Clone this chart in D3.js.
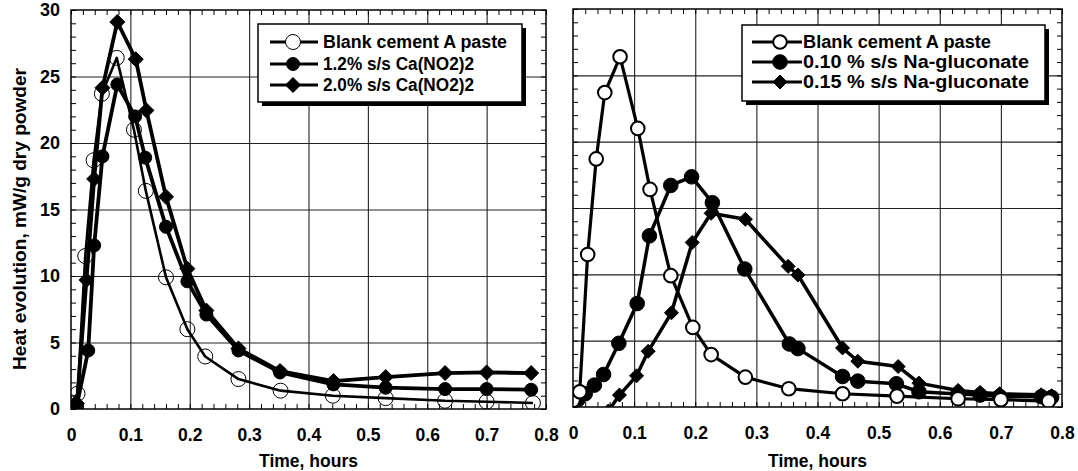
<!DOCTYPE html>
<html>
<head>
<meta charset="utf-8">
<script src="https://cdn.jsdelivr.net/npm/d3@7"></script>
<style>
body { margin: 0; background: #fff; }
svg { display: block; font-family: Arial, "Liberation Sans", sans-serif; font-weight: bold; }
</style>
</head>
<body>
<svg id="chart" width="1078" height="471"></svg>
<script>
// axis ticks
var timeTicks = [0, 0.1, 0.2, 0.3, 0.4, 0.5, 0.6, 0.7, 0.8];
var timeTickLabels = ["0", "0.1", "0.2", "0.3", "0.4", "0.5", "0.6", "0.7", "0.8"];
var heatTicks = [0, 5, 10, 15, 20, 25, 30];
var heatTickLabels = ["0", "5", "10", "15", "20", "25", "30"];

// blank cement A paste (both panels)
var blankTime = [0, 0.011, 0.024, 0.038, 0.052, 0.077, 0.106, 0.126, 0.16, 0.196, 0.226, 0.282, 0.353, 0.441, 0.53, 0.63, 0.7, 0.778];
var blankHeat = [0.5, 1.15, 11.5, 18.7, 23.7, 26.4, 21.0, 16.4, 9.9, 6.0, 3.95, 2.25, 1.38, 1.0, 0.82, 0.62, 0.55, 0.45];

// left panel: calcium nitrite
var nitrite12Time = [0, 0.01, 0.029, 0.039, 0.053, 0.078, 0.108, 0.125, 0.16, 0.196, 0.228, 0.282, 0.352, 0.442, 0.53, 0.63, 0.7, 0.775];
var nitrite12Heat = [0.1, 0.3, 4.4, 12.3, 19.0, 24.4, 22.0, 18.9, 13.7, 9.6, 7.1, 4.4, 2.75, 1.85, 1.6, 1.5, 1.5, 1.45];
var nitrite20Time = [0, 0.01, 0.026, 0.039, 0.053, 0.078, 0.109, 0.127, 0.16, 0.196, 0.228, 0.282, 0.352, 0.442, 0.53, 0.63, 0.7, 0.775];
var nitrite20Heat = [0.1, 0.4, 9.7, 17.3, 24.15, 29.1, 26.3, 22.45, 15.95, 10.55, 7.4, 4.55, 2.85, 2.1, 2.4, 2.7, 2.75, 2.7];

// right panel: sodium gluconate
var gluconate10Time = [0, 0.008, 0.02, 0.035, 0.05, 0.075, 0.105, 0.125, 0.16, 0.194, 0.228, 0.281, 0.354, 0.368, 0.441, 0.466, 0.529, 0.566, 0.63, 0.666, 0.698, 0.766, 0.783];
var gluconate10Heat = [0.3, 0.55, 1.0, 1.65, 2.45, 4.8, 7.8, 12.9, 16.7, 17.35, 15.4, 10.4, 4.75, 4.4, 2.3, 1.95, 1.75, 1.15, 0.98, 0.9, 0.8, 0.78, 0.73];
var gluconate15Time = [0.058, 0.076, 0.104, 0.123, 0.161, 0.195, 0.226, 0.282, 0.352, 0.368, 0.441, 0.466, 0.532, 0.566, 0.63, 0.666, 0.698, 0.766, 0.783];
var gluconate15Heat = [-0.3, 0.9, 2.35, 4.2, 7.1, 12.4, 14.6, 14.15, 10.6, 9.95, 4.45, 3.45, 3.05, 1.8, 1.25, 1.1, 1.0, 0.92, 0.85];

var leftLegend = ["Blank cement A paste", "1.2% s/s Ca(NO2)2", "2.0% s/s Ca(NO2)2"];
var rightLegend = ["Blank cement A paste", "0.10 % s/s Na-gluconate", "0.15 % s/s Na-gluconate"];

var svg = d3.select("#chart");
var fontSize = 17;

var diamond = {
	draw: function(ctx, size) {
		var r = Math.sqrt(size / 2);
		ctx.moveTo(0, -r);
		ctx.lineTo(r, 0);
		ctx.lineTo(0, r);
		ctx.lineTo(-r, 0);
		ctx.closePath();
	}
};

function zip(t, q) {
	return t.map(function(d, i) { return {t: d, q: q[i]}; });
}

function styleText(sel, size) {
	sel.attr("font-size", size).attr("font-family", null).attr("font-weight", "bold").attr("fill", "#000");
}

function drawMarker(g, type, r, fill, strokeW) {
	var sym = type === "diamond" ? d3.symbol().type(diamond).size(2 * r * r)
		: d3.symbol().type(d3.symbolCircle).size(Math.PI * r * r);
	g.attr("d", sym())
	 .attr("fill", fill)
	 .attr("stroke", "#000")
	 .attr("stroke-width", strokeW);
}

function drawPanel(p) {
	var x = d3.scaleLinear().domain([0, 0.8]).range([p.left, p.right]);
	var y = d3.scaleLinear().domain([0, 30]).range([p.bottom, p.top]);
	var w = p.right - p.left, h = p.bottom - p.top;
	var g = svg.append("g");

	// grid
	var gx = g.append("g").attr("transform", "translate(0," + p.bottom + ")")
		.call(d3.axisBottom(x).tickValues(timeTicks.slice(1, -1)).tickSize(-h).tickFormat(""));
	var gy = g.append("g").attr("transform", "translate(" + p.left + ",0)")
		.call(d3.axisLeft(y).tickValues(heatTicks.slice(1, -1)).tickSize(-w).tickFormat(""));
	[gx, gy].forEach(function(a) {
		a.select(".domain").remove();
		a.selectAll("line").attr("stroke", "#222").attr("stroke-width", 1.1);
	});

	// minor ticks on all four sides
	var minorT = d3.range(0, 0.8001, 0.02);
	var minorQ = d3.range(0, 30.001, 1);
	var mt = [
		g.append("g").attr("transform", "translate(0," + p.bottom + ")").call(d3.axisBottom(x).tickValues(minorT).tickSize(-5).tickFormat("")),
		g.append("g").attr("transform", "translate(0," + p.top + ")").call(d3.axisTop(x).tickValues(minorT).tickSize(-5).tickFormat("")),
		g.append("g").attr("transform", "translate(" + p.left + ",0)").call(d3.axisLeft(y).tickValues(minorQ).tickSize(-5).tickFormat("")),
		g.append("g").attr("transform", "translate(" + p.right + ",0)").call(d3.axisRight(y).tickValues(minorQ).tickSize(-5).tickFormat(""))
	];
	mt.forEach(function(a) {
		a.select(".domain").remove();
		a.selectAll("line").attr("stroke", "#000").attr("stroke-width", 1);
	});

	// tick labels
	var xl = g.append("g").attr("transform", "translate(0," + p.bottom + ")")
		.call(d3.axisBottom(x).tickValues(timeTicks).tickSize(0).tickPadding(20)
			.tickFormat(function(d, i) { return timeTickLabels[i]; }));
	xl.select(".domain").remove();
	styleText(xl.selectAll("text"), 17.5);
	if (p.yLabels) {
		var yl = g.append("g").attr("transform", "translate(" + p.left + ",0)")
			.call(d3.axisLeft(y).tickValues(heatTicks).tickSize(0).tickPadding(11)
				.tickFormat(function(d, i) { return heatTickLabels[i]; }));
		yl.select(".domain").remove();
		styleText(yl.selectAll("text"), 18);
	}

	g.append("text")
		.attr("x", (p.left + p.right) / 2)
		.attr("y", 467)
		.attr("text-anchor", "middle")
		.attr("font-size", 17.5)
		.text("Time, hours");

	// data
	g.append("clipPath").attr("id", p.id + "clip")
		.append("rect").attr("x", p.left).attr("y", p.top).attr("width", w).attr("height", h);
	var plot = g.append("g").attr("clip-path", "url(#" + p.id + "clip)");
	var line = d3.line().x(function(d) { return x(d.t); }).y(function(d) { return y(d.q); });

	p.series.forEach(function(s) {
		var data = zip(s.t, s.q);
		var sg = plot.append("g");
		sg.append("path")
			.attr("d", line(data))
			.attr("fill", "none")
			.attr("stroke", "#000")
			.attr("stroke-width", s.lw)
			.attr("stroke-linejoin", "round");
		sg.selectAll("path.m").data(data).enter().append("path")
			.attr("class", "m")
			.attr("transform", function(d) { return "translate(" + x(d.t) + "," + y(d.q) + ")"; })
			.each(function() { drawMarker(d3.select(this), s.marker, s.r, s.fill, s.sw); });
	});

	// frame
	g.append("rect")
		.attr("x", p.left).attr("y", p.top).attr("width", w).attr("height", h)
		.attr("fill", "none").attr("stroke", "#000").attr("stroke-width", 1.5);

	// legend
	var L = p.legend;
	g.append("rect")
		.attr("x", L.x + 4).attr("y", L.y + 4).attr("width", L.w).attr("height", L.h)
		.attr("fill", "#000");
	g.append("rect")
		.attr("x", L.x).attr("y", L.y).attr("width", L.w).attr("height", L.h)
		.attr("fill", "#fff").attr("stroke", "#000").attr("stroke-width", 1.5);
	L.items.forEach(function(label, i) {
		var s = L.order[i];
		var ry = L.rows[i];
		g.append("line")
			.attr("x1", L.lineX[0]).attr("x2", L.lineX[1])
			.attr("y1", ry).attr("y2", ry)
			.attr("stroke", "#000").attr("stroke-width", 3);
		var m = g.append("path").attr("transform", "translate(" + L.markX + "," + ry + ")");
		drawMarker(m, s.marker, s.r, s.legendFill || s.fill, s.sw);
		g.append("text")
			.attr("x", L.textX).attr("y", ry)
			.attr("dy", "0.36em")
			.attr("font-size", 18)
			.attr("textLength", L.textW[i])
			.attr("lengthAdjust", "spacingAndGlyphs")
			.text(label);
	});
}

var leftBlank = {t: blankTime, q: blankHeat, marker: "circle", r: 7.5, fill: "none", legendFill: "#fff", sw: 1, lw: 2.6};
var left12 = {t: nitrite12Time, q: nitrite12Heat, marker: "circle", r: 6.5, fill: "#000", sw: 1, lw: 3.8};
var left20 = {t: nitrite20Time, q: nitrite20Heat, marker: "diamond", r: 7.5, fill: "#000", sw: 1, lw: 3.8};

drawPanel({
	id: "left", left: 71, right: 546, top: 10, bottom: 409, yLabels: true,
	series: [leftBlank, left12, left20],
	legend: {
		x: 258, y: 24, w: 264, h: 78,
		rows: [42, 64, 85], lineX: [270, 318], markX: 293, textX: 323,
		textW: [184, 151, 151],
		items: leftLegend, order: [leftBlank, left12, left20]
	}
});

var rightBlank = {t: blankTime, q: blankHeat, marker: "circle", r: 6.8, fill: "#fff", sw: 2, lw: 3.2};
var right10 = {t: gluconate10Time, q: gluconate10Heat, marker: "circle", r: 7.3, fill: "#000", sw: 1, lw: 3.5};
var right15 = {t: gluconate15Time, q: gluconate15Heat, marker: "diamond", r: 7, fill: "#000", sw: 1, lw: 3.5};

drawPanel({
	id: "right", left: 573, right: 1062, top: 9, bottom: 407, yLabels: false,
	series: [right10, right15, rightBlank],
	legend: {
		x: 742, y: 25, w: 303, h: 76,
		rows: [42, 62, 82], lineX: [752, 802], markX: 780, textX: 803,
		textW: [188, 226, 226],
		items: rightLegend, order: [rightBlank, right10, right15]
	}
});

// y axis title
svg.append("text")
	.attr("transform", "translate(26,219) rotate(-90)")
	.attr("text-anchor", "middle")
	.attr("font-size", 18.5)
	.attr("textLength", 302)
	.attr("lengthAdjust", "spacingAndGlyphs")
	.text("Heat evolution, mW/g dry powder");
</script>
</body>
</html>
